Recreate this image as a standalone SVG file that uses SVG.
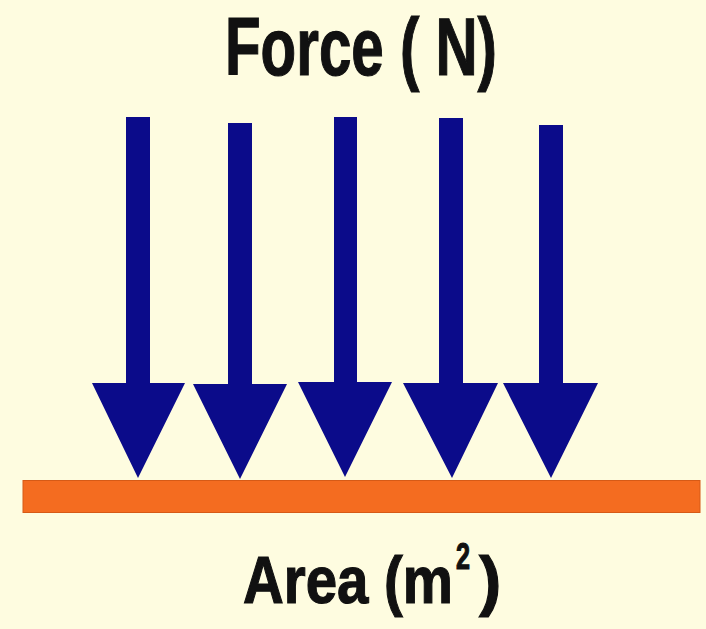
<svg xmlns="http://www.w3.org/2000/svg" width="706" height="629" viewBox="0 0 706 629">
  <style>
    .lbl { font-family: "Liberation Sans", Arial, sans-serif; font-weight: bold; fill: #111111; stroke: #111111; stroke-width: 1.2; }
    .arrow { fill: #0B0B8A; }
    .bar { fill: #F46C20; stroke: #D65A16; stroke-width: 1; }
  </style>
  <rect width="706" height="629" fill="#FEFCE0"/>
  <g id="force-label">
    <text class="lbl" x="225" y="75" font-size="82" textLength="272" lengthAdjust="spacingAndGlyphs">Force ( N)</text>
  </g>
  <g id="arrows">
    <polygon id="arrow1" class="arrow" points="126,117 150,117 150,383 185,383 138,478 92,383 126,383"/>
    <polygon id="arrow2" class="arrow" points="228,123 252,123 252,384 287,384 240,479 193,384 228,384"/>
    <polygon id="arrow3" class="arrow" points="334,117 357,117 357,382 392,382 345,477 298,382 334,382"/>
    <polygon id="arrow4" class="arrow" points="439,118 463,118 463,383 498,383 452,478 403,383 439,383"/>
    <polygon id="arrow5" class="arrow" points="539,125 563,125 563,383 598,383 551,478 503,383 539,383"/>
  </g>
  <g id="surface">
    <rect class="bar" x="23" y="480.5" width="677" height="32"/>
  </g>
  <g id="area-label">
    <text class="lbl" font-size="67"><tspan x="243" y="603" textLength="210" lengthAdjust="spacingAndGlyphs">Area (m</tspan><tspan x="456" y="569" font-size="36" textLength="14" lengthAdjust="spacingAndGlyphs">2</tspan><tspan x="479" y="603">)</tspan></text>
  </g>
</svg>
